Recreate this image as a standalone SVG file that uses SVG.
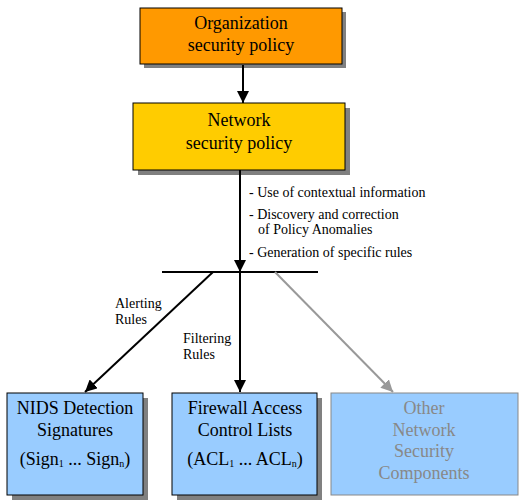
<svg xmlns="http://www.w3.org/2000/svg" width="519" height="500" viewBox="0 0 519 500" font-family="Liberation Serif, Times New Roman, serif">
<style>
.big{font-size:18px;text-anchor:middle}
.sm{font-size:14px}
.box{stroke:#000;stroke-width:1}
.sh{fill:#808080}
.ln{stroke:#000;stroke-width:2;fill:none}
.gr{stroke:#999;stroke-width:2;fill:none}
.gtxt{fill:#888}
</style>
<defs>
<marker id="ahb" viewBox="0 0 10 10" refX="10" refY="5" markerWidth="12" markerHeight="12" orient="auto" markerUnits="userSpaceOnUse"><path d="M0,0 L10,5 L0,10 z" fill="#000"/></marker>
<marker id="ahg" viewBox="0 0 10 10" refX="10" refY="5" markerWidth="12" markerHeight="12" orient="auto" markerUnits="userSpaceOnUse"><path d="M0,0 L10,5 L0,10 z" fill="#999"/></marker>
</defs>
<g id="org">
<rect class="sh" x="144" y="12" width="202" height="56"/>
<rect class="box" x="140" y="8" width="202" height="56" fill="#FF9900"/>
<text class="big" x="241" y="29">Organization</text>
<text class="big" x="241" y="51">security policy</text>
</g>
<g id="net">
<rect class="sh" x="138" y="108" width="212" height="67"/>
<rect class="box" x="133" y="103" width="212" height="67" fill="#FFCC00"/>
<text class="big" x="239" y="126">Network</text>
<text class="big" x="239" y="149">security policy</text>
</g>
<g id="nids">
<rect class="sh" x="12" y="398" width="136" height="102"/>
<rect class="box" x="7" y="393" width="136" height="102" fill="#99CCFF"/>
<text class="big" x="75" y="414">NIDS Detection</text>
<text class="big" x="75" y="436">Signatures</text>
<text class="big" x="75" y="465">(Sign<tspan font-size="10" dy="2">1</tspan><tspan dy="-2"> ... Sign</tspan><tspan font-size="10" dy="2">n</tspan><tspan dy="-2">)</tspan></text>
</g>
<g id="fw">
<rect class="sh" x="177" y="398" width="145" height="102"/>
<rect class="box" x="172" y="393" width="145" height="102" fill="#99CCFF"/>
<text class="big" x="245" y="414">Firewall Access</text>
<text class="big" x="245" y="436">Control Lists</text>
<text class="big" x="245" y="465">(ACL<tspan font-size="10" dy="2">1</tspan><tspan dy="-2"> ... ACL</tspan><tspan font-size="10" dy="2">n</tspan><tspan dy="-2">)</tspan></text>
</g>
<g id="other">
<rect x="331" y="393" width="187" height="102" fill="#99CCFF" stroke="#888" stroke-width="1"/>
<text class="big gtxt" x="424" y="414">Other</text>
<text class="big gtxt" x="424" y="436">Network</text>
<text class="big gtxt" x="424" y="457">Security</text>
<text class="big gtxt" x="424" y="479">Components</text>
</g>
<g id="connectors">
<line class="ln" x1="243" y1="65" x2="243" y2="103" marker-end="url(#ahb)"/>
<line class="ln" x1="240" y1="170" x2="240" y2="272" marker-end="url(#ahb)"/>
<line class="ln" x1="162" y1="272" x2="318" y2="272"/>
<line class="ln" x1="213" y1="272" x2="85" y2="392" marker-end="url(#ahb)"/>
<line class="ln" x1="240" y1="272" x2="240" y2="392" marker-end="url(#ahb)"/>
<line class="gr" x1="275" y1="272" x2="393" y2="392" marker-end="url(#ahg)"/>
</g>
<g id="labels">
<text class="sm" x="249" y="197">- Use of contextual information</text>
<text class="sm" x="249" y="219">- Discovery and correction</text>
<text class="sm" x="258" y="234">of Policy Anomalies</text>
<text class="sm" x="249" y="257">- Generation of specific rules</text>
<text class="sm" x="115" y="308">Alerting</text>
<text class="sm" x="115" y="324">Rules</text>
<text class="sm" x="183" y="343">Filtering</text>
<text class="sm" x="183" y="359">Rules</text>
</g>
</svg>
